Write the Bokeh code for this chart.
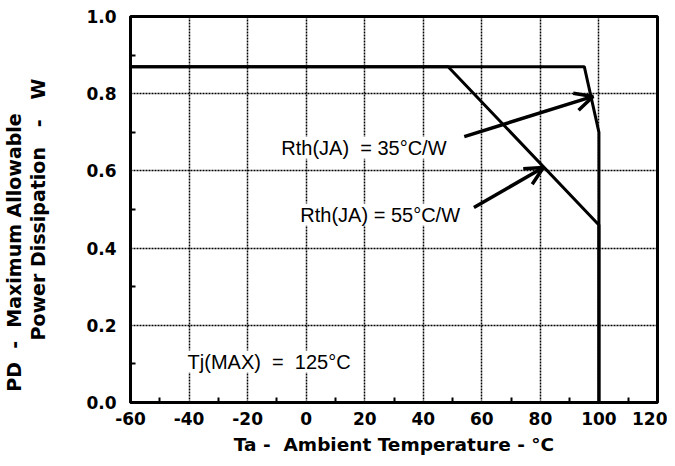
from bokeh.plotting import figure
from bokeh.models import FixedTicker, Label, Arrow, OpenHead, NumeralTickFormatter, Range1d
from bokeh.embed import file_html
from bokeh.resources import INLINE

# ---- data ----
x_ticks = [-60, -40, -20, 0, 20, 40, 60, 80, 100, 120]
x_minor = [-50, -30, -10, 10, 30, 50, 70, 90, 110]
y_ticks = [0.0, 0.2, 0.4, 0.6, 0.8, 1.0]
y_minor = [0.1, 0.3, 0.5, 0.7, 0.9]

ta_35 = [-60, 95, 100, 100]
pd_35 = [0.87, 0.87, 0.70, 0.0]
ta_55 = [-60, 48.5, 100, 100]
pd_55 = [0.87, 0.87, 0.46, 0.0]

NB = "\u00a0"
label_35 = "Rth(JA)" + NB + NB + "= 35°C/W"
label_55 = "Rth(JA) = 55°C/W"
label_tj = "Tj(MAX)" + NB + NB + "=" + NB + NB + "125°C"
x_title = "Ta -" + NB + NB + "Ambient Temperature - °C"
y_title_1 = "PD" + NB + NB + "-" + NB + NB + "Maximum Allowable" + NB * 13
y_title_2 = "Power Dissipation" + NB * 3 + "-" + NB * 3 + "W"

TXT_FONT = "Liberation Sans"
BOLD_FONT = "DejaVu Sans"

p = figure(width=667, height=459, output_backend="svg", toolbar_location=None,
           x_range=Range1d(-60, 120), y_range=Range1d(0, 1.0),
           min_border_left=126, min_border_top=16, min_border_right=10, min_border_bottom=57)
p.background_fill_color = "white"
p.border_fill_color = "white"
p.outline_line_color = "black"
p.outline_line_width = 3

for ax in (p.xaxis[0], p.yaxis[0]):
    ax.axis_line_width = 3
    ax.major_tick_in = 0
    ax.major_tick_out = 0
    ax.minor_tick_in = 5
    ax.minor_tick_out = 0
    ax.minor_tick_line_width = 2
    ax.major_label_text_font = BOLD_FONT
    ax.major_label_text_font_style = "bold"
    ax.major_label_text_font_size = "17px"
    ax.major_label_text_color = "black"
    ax.axis_label_text_font = BOLD_FONT
    ax.axis_label_text_font_style = "bold"
    ax.axis_label_text_color = "black"

p.xaxis.ticker = FixedTicker(ticks=x_ticks, minor_ticks=x_minor)
p.yaxis.ticker = FixedTicker(ticks=y_ticks, minor_ticks=y_minor)
p.xaxis.major_label_overrides = {t: str(t) for t in x_ticks}
p.yaxis.formatter = NumeralTickFormatter(format="0.0")
p.xaxis.major_label_standoff = 9
p.yaxis.major_label_standoff = 14
p.xaxis.axis_label = x_title
p.xaxis.axis_label_text_font_size = "18.5px"
p.xaxis.axis_label_standoff = 6
p.yaxis.axis_label = y_title_1 + "\n" + y_title_2
p.yaxis.axis_label_text_font_size = "19px"
p.yaxis.axis_label_standoff = 34
p.yaxis.axis_label_text_line_height = 1.1

for g in (p.xgrid[0], p.ygrid[0]):
    g.grid_line_color = "black"
    g.grid_line_dash = "2 1"
    g.grid_line_width = 1.5

p.line(ta_35, pd_35, line_color="black", line_width=3)
p.line(ta_55, pd_55, line_color="black", line_width=3)

for txt, x, y in [(label_35, -8.5, 0.66), (label_55, -2.0, 0.487), (label_tj, -40.5, 0.106)]:
    p.add_layout(Label(x=x, y=y, text=txt, text_font=TXT_FONT, text_font_size="20px",
                       text_baseline="middle", text_align="left", text_color="black",
                       background_fill_color="white"))

for (x0, y0, x1, y1) in [(54, 0.689, 98, 0.793), (57.3, 0.505, 81, 0.609)]:
    p.add_layout(Arrow(x_start=x0, y_start=y0, x_end=x1, y_end=y1, line_width=3.5,
                       end=OpenHead(size=18, line_width=3.5, line_color="black")))

open("out.html", "w").write(file_html(p, INLINE))
